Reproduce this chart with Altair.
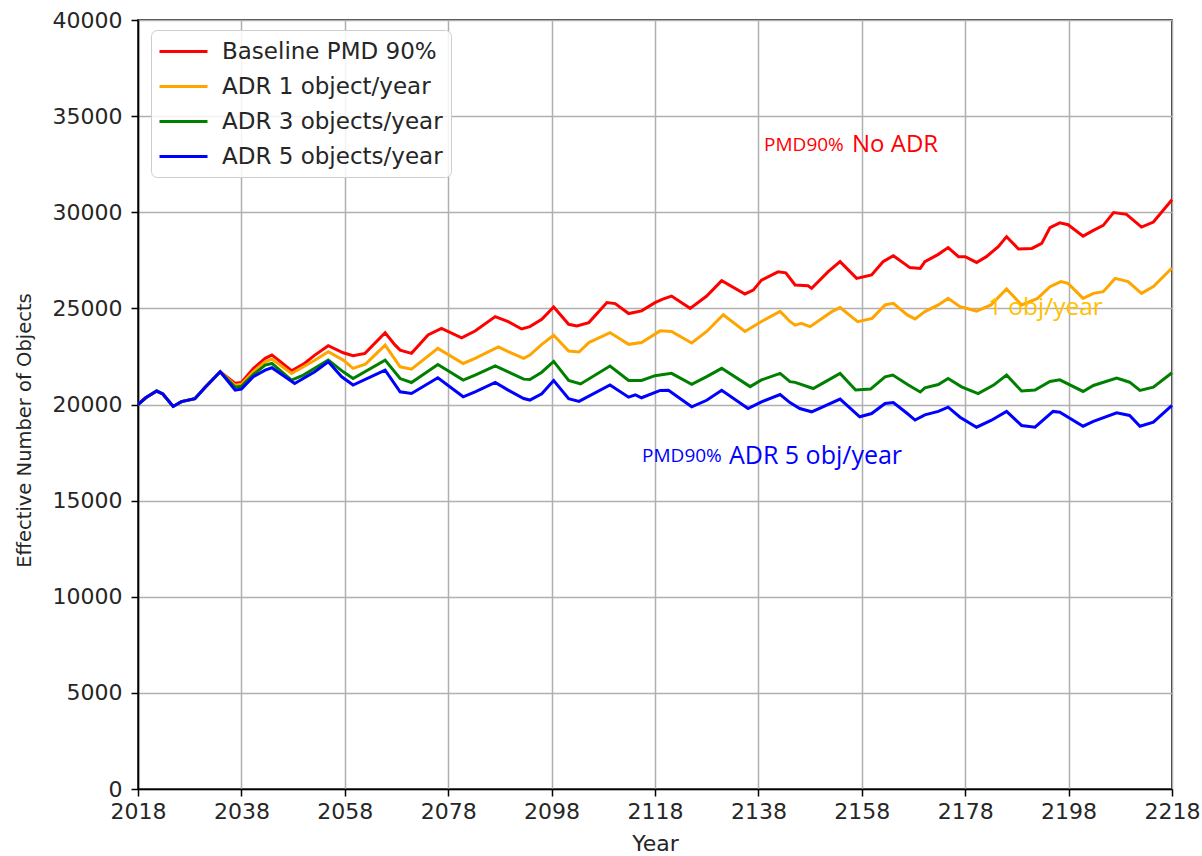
import altair as alt
import pandas as pd

# ---- data ----
series_names = ["Baseline PMD 90%", "ADR 1 object/year", "ADR 3 objects/year", "ADR 5 objects/year"]
series_colors = ["#ff0000", "#ffa500", "#008000", "#0000ff"]

common_years = [2018, 2019.5, 2021.6, 2022.8, 2024.8, 2026.4, 2029, 2031, 2033.9]
common_vals = [20000, 20350, 20700, 20550, 19900, 20150, 20300, 20900, 21700]

red_years = [2036.8, 2038, 2040.3, 2042.6, 2043.9, 2045, 2047.7, 2050, 2052.2, 2054.8, 2057.7, 2059.6, 2061.9,
             2065.8, 2067.7, 2068.7, 2070.9, 2074.1, 2076.7, 2080.6, 2083.2, 2087.1, 2089.6, 2092.2, 2093.8,
             2096.1, 2098.4, 2101.3, 2102.9, 2105.2, 2108.7, 2110.3, 2112.9, 2115.4, 2118, 2119.5, 2121.2,
             2124.8, 2128, 2130.9, 2135.4, 2137, 2138.6, 2141.8, 2143.3, 2145.1, 2147.6, 2148.3, 2151.5,
             2153.8, 2157, 2159.9, 2162.1, 2164.1, 2167.3, 2169.3, 2170.2, 2172.8, 2174.7, 2176.7, 2178,
             2180.2, 2182.1, 2184.4, 2186, 2188.3, 2190.9, 2192.8, 2194.4, 2196.3, 2197.9, 2200.8, 2202.8,
             2204.7, 2206.7, 2209.2, 2212.1, 2214.4, 2218]
red_vals = [21100, 21150, 21870, 22400, 22570, 22350, 21755, 22100, 22570, 23060, 22690, 22540, 22660,
            23730, 23100, 22830, 22660, 23620, 23960, 23470, 23820, 24570, 24310, 23930, 24050,
            24430, 25070, 24170, 24080, 24260, 25300, 25250, 24730, 24870, 25300, 25480, 25640,
            25000, 25640, 26440, 25750, 25950, 26470, 26900, 26850, 26220, 26180, 26040, 26910,
            27430, 26560, 26740, 27430, 27740, 27120, 27080, 27430, 27810, 28160, 27690, 27690,
            27390, 27690, 28210, 28730, 28090, 28120, 28380, 29200, 29450, 29350, 28760, 29060,
            29320, 29980, 29890, 29230, 29490, 30650]

orange_years = [2036.8, 2038, 2040.3, 2042.6, 2043.9, 2047.7, 2052.2, 2054.8, 2057.7, 2059.6, 2062, 2065.8,
                2068.7, 2070.9, 2076, 2080.9, 2083.2, 2087.7, 2089.6, 2092.6, 2093.8, 2096.1, 2098.4,
                2101.3, 2103.3, 2105.2, 2109.3, 2112.9, 2115.4, 2119, 2121.2, 2125.1, 2128, 2131.2,
                2135.4, 2138.6, 2142.2, 2144.1, 2145.1, 2146.3, 2148, 2152.2, 2153.8, 2157.2, 2160,
                2162.5, 2164.1, 2166.8, 2168.3, 2170.2, 2172.8, 2174.7, 2177, 2180.2, 2183, 2186,
                2188.9, 2192, 2194.4, 2196.5, 2197.9, 2200.8, 2202.8, 2204.7, 2207, 2209.5, 2212.1,
                2214.4, 2218]
orange_vals = [21000, 21050, 21700, 22220, 22360, 21610, 22300, 22745, 22310, 21880, 22100, 23090,
               21960, 21840, 22920, 22135, 22400, 23000, 22750, 22400, 22570, 23130, 23600,
               22780, 22730, 23220, 23740, 23130, 23220, 23830, 23800, 23200, 23800, 24670,
               23800, 24320, 24840, 24320, 24130, 24220, 24050, 24830, 25040, 24310, 24480,
               25180, 25260, 24660, 24450, 24830, 25180, 25520, 25090, 24860, 25180, 26010,
               25180, 25520, 26130, 26390, 26300, 25520, 25780, 25870, 26560, 26390, 25780,
               26130, 27100]

green_years = [2036.8, 2038, 2040.3, 2042.6, 2043.9, 2047.7, 2050, 2054.8, 2057.7, 2059.6, 2065.8, 2068.7,
               2070.9, 2076, 2080.9, 2083.2, 2087.1, 2089.6, 2092.6, 2093.8, 2096.1, 2098.4, 2101.3,
               2103.6, 2109.3, 2112.9, 2115.4, 2118, 2121.2, 2125.1, 2128, 2130.9, 2136.4, 2138.6,
               2142.2, 2144.1, 2145.1, 2148.6, 2151.5, 2153.8, 2156.8, 2159.7, 2162.5, 2164, 2167,
               2169.3, 2170.2, 2172.8, 2174.7, 2177.3, 2180.5, 2183.5, 2186, 2188.9, 2191.5, 2194.4,
               2196.3, 2200.8, 2202.8, 2207.3, 2209.8, 2211.8, 2214.4, 2218]
green_vals = [20900, 20950, 21550, 22050, 22135, 21270, 21530, 22310, 21700, 21350, 22310, 21350,
              21145, 22080, 21270, 21530, 22010, 21700, 21320, 21300, 21680, 22240, 21250,
              21070, 22000, 21250, 21250, 21500, 21620, 21050, 21450, 21880, 20930, 21280,
              21620, 21190, 21150, 20830, 21270, 21620, 20750, 20800, 21440, 21530, 21010,
              20650, 20870, 21040, 21350, 20920, 20570, 21010, 21530, 20700, 20750, 21200,
              21280, 20680, 20990, 21370, 21160, 20730, 20900, 21650]

blue_years = [2036.8, 2038, 2040.3, 2042.6, 2043.9, 2048.3, 2052.2, 2054.8, 2057.4, 2059.6, 2065.8, 2068.7,
              2070.9, 2076, 2080.9, 2083.2, 2087.1, 2089.6, 2092.6, 2093.8, 2096.1, 2098.4, 2101.3,
              2103.3, 2109.3, 2112.9, 2114.2, 2115.4, 2119, 2120.6, 2125.1, 2128, 2130.9, 2136,
              2138.6, 2142.2, 2144.1, 2146, 2148.3, 2153.8, 2157.6, 2159.9, 2162.5, 2164.1, 2166.8,
              2168.3, 2170.2, 2172.8, 2174.7, 2177, 2180.2, 2183, 2186, 2188.9, 2191.5, 2195,
              2196.3, 2200.8, 2202.8, 2207.3, 2209.8, 2211.8, 2214.4, 2218]
blue_vals = [20750, 20800, 21440, 21790, 21910, 21090, 21700, 22220, 21440, 21010, 21790, 20660,
             20570, 21390, 20400, 20660, 21145, 20750, 20310, 20230, 20560, 21250, 20300,
             20160, 21020, 20380, 20500, 20350, 20730, 20740, 19880, 20220, 20740, 19790,
             20140, 20520, 20100, 19790, 19620, 20280, 19360, 19530, 20050, 20100, 19530,
             19190, 19460, 19640, 19860, 19340, 18820, 19170, 19640, 18910, 18820, 19640,
             19600, 18870, 19120, 19570, 19430, 18870, 19080, 19950]

x_ticks = [2018, 2038, 2058, 2078, 2098, 2118, 2138, 2158, 2178, 2198, 2218]
y_ticks = [0, 5000, 10000, 15000, 20000, 25000, 30000, 35000, 40000]

# annotations
ann_years = [2139.1, 2156.1, 2182.4, 2115.5, 2132.3]
ann_vals = [33500, 33500, 25020, 17320, 17320]
ann_texts = ["PMD90%", "No ADR", "1 obj/year", "PMD90%", "ADR 5 obj/year"]
ann_sizes = [19, 24, 24.5, 19, 25]
ann_colors = ["#ff0000", "#ff0000", "#ffc000", "#0000ff", "#0000ff"]

# ---- build table ----
rows = []
all_series = [(red_years, red_vals), (orange_years, orange_vals), (green_years, green_vals), (blue_years, blue_vals)]
for i, (name, (ys, vs)) in enumerate(zip(series_names, all_series)):
    for y, v in zip(common_years + ys, common_vals + vs):
        rows.append({"year": y, "value": v, "series": name, "k": i})
df = pd.DataFrame(rows)

ann_df = pd.DataFrame({"year": ann_years, "value": ann_vals, "text": ann_texts})

FONT = "DejaVu Sans"

x_enc = alt.X("year:Q", scale=alt.Scale(domain=[2018, 2218], nice=False, zero=False),
              axis=alt.Axis(values=x_ticks, format="d", title="Year"))
y_enc = alt.Y("value:Q", scale=alt.Scale(domain=[0, 40000], nice=False),
              axis=alt.Axis(values=y_ticks, format="d", title="Effective Number of Objects",
                            titleFontSize=19.5, titleY=410))

lines = alt.Chart(df).mark_line(strokeWidth=3).encode(
    x=x_enc,
    y=y_enc,
    color=alt.Color("series:N",
                    scale=alt.Scale(domain=series_names, range=series_colors),
                    sort=series_names,
                    legend=alt.Legend(title=None, orient="none", legendX=13, legendY=10)),
    order=alt.Order("k:Q"),
)

texts = []
for i in range(len(ann_texts)):
    texts.append(
        alt.Chart(ann_df.iloc[[i]]).mark_text(
            align="left", baseline="middle", fontSize=ann_sizes[i], color=ann_colors[i],
            font="Open Sans"
        ).encode(x="year:Q", y="value:Q", text="text:N")
    )

chart = alt.layer(lines, *texts).properties(
    width=1034, height=769,
    autosize=alt.AutoSizeParams(type="none"),
    padding={"left": 138, "top": 20, "right": 30, "bottom": 67},
).configure_view(
    stroke="black", strokeWidth=1.6
).configure_axis(
    grid=True, gridColor="#b0b0b0", gridWidth=1.5,
    domainColor="black", domainWidth=1.6,
    tickColor="black", tickSize=7, tickWidth=1.5,
    labelFont=FONT, labelFontSize=22, labelColor="#262626", labelPadding=9,
    titleFont=FONT, titleFontSize=22, titleColor="#262626", titleFontWeight="normal",
).configure_axisX(
    titlePadding=11, labelFlush=False, labelPadding=5
).configure_axisY(
    titlePadding=18
).configure_legend(
    labelFont=FONT, labelFontSize=23, labelColor="#262626", labelLimit=0,
    symbolType="M-2,0H2", symbolSize=576, symbolStrokeWidth=3,
    symbolOffset=11, labelOffset=25,
    fillColor="rgba(255,255,255,0.85)", strokeColor="#cccccc", cornerRadius=6,
    padding=8, rowPadding=9,
)

chart.save("out.html", embed_options={"renderer": "svg", "actions": False})
